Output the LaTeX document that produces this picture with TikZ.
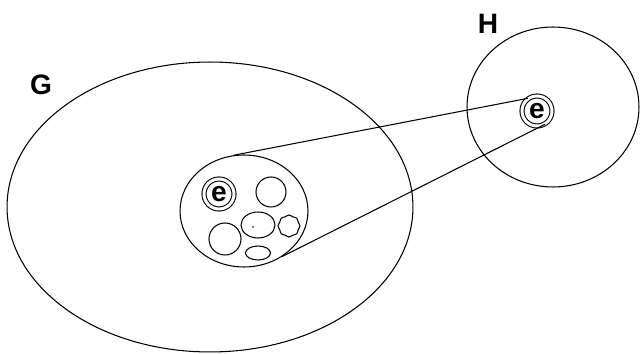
\documentclass[tikz,border=0pt]{standalone}
\usepackage{fontspec}
\setmainfont{Liberation Sans}
\usetikzlibrary{positioning, shapes.geometric}
\tikzset{
  every picture/.style={line width=0.6pt},
  setbox/.style={draw, ellipse, inner sep=0pt},
  elem/.style={draw, ellipse, inner sep=0pt},
  ering/.style={draw, circle, inner sep=0pt, minimum size=0.6cm, double, double distance=0.06cm, font=\bfseries\fontsize{16}{16}\selectfont},
  setname/.style={font=\bfseries\fontsize{16}{16}\selectfont},
}
\begin{document}
\begin{tikzpicture}[x=0.02cm, y=-0.02cm]
  \useasboundingbox (0,0) rectangle (640,354);
  % the two sets
  \node[setbox, minimum width=8.12cm, minimum height=5.8cm] (setG) at (210,207) {};
  \node[setbox, minimum width=3.44cm, minimum height=3.2cm] (setH) at (553,107) {};
  \node[setname] (labG) at (41,85) {G};
  \node[setname] (labH) at (488,24) {H};
  % cluster inside G
  \node[setbox, minimum width=2.56cm, minimum height=2.24cm] (cluster) at (244,211) {};
  \node[ering] (eG) at (219,194) {e};
  \node[elem, minimum size=0.6cm] (c1) at (271,192) {};
  \node[elem, minimum size=0.64cm] (c2) at (225,239) {};
  \node[elem, minimum width=0.68cm, minimum height=0.52cm] (c3) at (258,225) {};
  \fill (253,227) circle (0.5pt);
  \node[elem, minimum width=0.5cm, minimum height=0.28cm] (c4) at (258,253) {};
  \draw plot[smooth cycle, domain=0:337.5, samples=16] ({289+(10.5+0.5*cos(8*\x))*cos(\x)}, {226+(10.5+0.5*cos(8*\x))*sin(\x)});
  % the element of H
  \node[ering] (eH) at (537,111) {e};
  % map lines
  \draw (cluster.100) -- (eH.125);
  \draw (cluster.-50) -- (eH.-58);
\end{tikzpicture}
\end{document}
